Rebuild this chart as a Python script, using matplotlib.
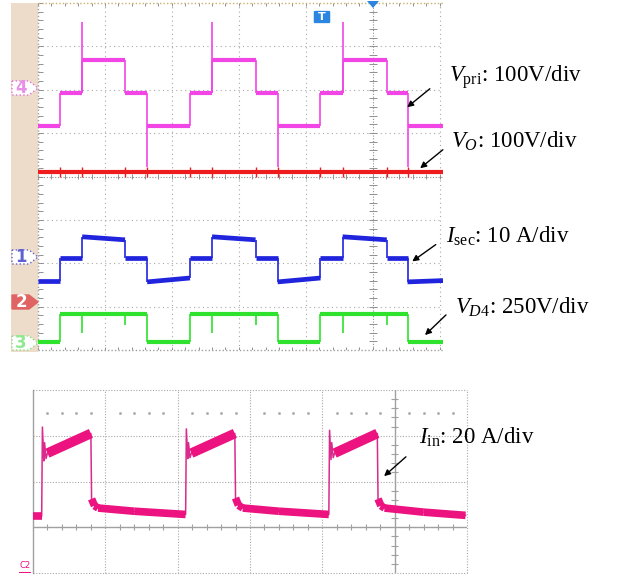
import matplotlib
matplotlib.use("Agg")
import matplotlib.pyplot as plt
from matplotlib.patches import Polygon, FancyBboxPatch, FancyArrowPatch, Rectangle

# ---------------- data (in scope divisions) ----------------
# top scope: transition times (div, relative to trigger centre)
edges_top = [-5.0, -4.67, -4.34, -3.70, -3.37, -2.73, -2.40, -1.75, -1.42, -0.78, -0.45, 0.21, 0.52, 1.05]
vpri_levels = [1.16, 1.92, 2.68, 1.92, 1.16, 1.92, 2.68, 1.92, 1.16, 1.92, 2.68, 1.92, 1.16]
vpri_spike_up_t = [-4.34, -2.40, -0.45]
vpri_spike_up_v = [3.56, 3.56, 3.56]
vpri_spike_dn_t = [-3.37, -1.42, 0.52]
vpri_spike_dn_v = [0.22, 0.22, 0.22]

vo_level = 0.10

isec_start = [-2.41, -1.88, -1.39, -1.88, -2.43, -1.88, -1.39, -1.88, -2.43, -1.88, -1.39, -1.88, -2.43]
isec_end = [-2.41, -1.88, -1.46, -1.88, -2.34, -1.88, -1.46, -1.88, -2.34, -1.88, -1.46, -1.88, -2.40]

vd4_levels = [-3.81, -3.17, -3.17, -3.17, -3.81, -3.17, -3.17, -3.17, -3.81, -3.17, -3.17, -3.17, -3.81]
vd4_dip_t = [-4.34, -3.70, -2.40, -1.75, -0.45, 0.21]
vd4_dip_v = [-3.60, -3.42, -3.60, -3.42, -3.60, -3.42]

# bottom scope: input current I_in
iin_t = [-5.00, -4.88, -4.87, -4.85, -4.84, -4.82, -4.80, -4.20, -4.19, -4.15, -4.10, -3.60, -2.89,
         -2.88, -2.86, -2.85, -2.83, -2.81, -2.21, -2.20, -2.16, -2.10, -1.60, -0.91,
         -0.90, -0.88, -0.87, -0.85, -0.83, -0.24, -0.23, -0.19, -0.14, 0.40, 0.98]
iin_v = [0.24, 0.24, 2.19, 1.45, 1.85, 1.50, 1.62, 2.05, 0.62, 0.47, 0.42, 0.35, 0.28,
         2.15, 1.50, 1.85, 1.52, 1.62, 2.05, 0.64, 0.48, 0.42, 0.35, 0.28,
         2.12, 1.48, 1.85, 1.52, 1.62, 2.05, 0.62, 0.47, 0.42, 0.33, 0.26]

labels_top = [r"$V_{\mathrm{pri}}$: 100V/div", r"$V_{O}$: 100V/div",
              r"$I_{\mathrm{sec}}$: 10 A/div", r"$V_{D4}$: 250V/div"]
label_bottom = r"$I_{\mathrm{in}}$: 20 A/div"

# ---------------- style ----------------
plt.rcParams['font.family'] = ['Liberation Serif', 'DejaVu Serif']
plt.rcParams['mathtext.fontset'] = 'custom'
plt.rcParams['mathtext.rm'] = 'Liberation Serif'
plt.rcParams['mathtext.it'] = 'Liberation Serif:italic'

W, H = 622, 576
fig = plt.figure(figsize=(W / 100, H / 100), dpi=100)

def fx(x):
    return x / W

def fy(y):
    return 1 - y / H

def add_axes_px(x0, y0, x1, y1):
    ax = fig.add_axes([fx(x0), fy(y1), (x1 - x0) / W, (y1 - y0) / H])
    ax.set_axis_off()
    return ax

MAG = '#F245E6'
RED = '#EE1C1C'
BLUE = '#2024DD'
GREEN = '#2EE22E'
PINK = '#EC1280'
GRID = '#A8A8A8'

# ---------------- top scope ----------------
fig.add_artist(Rectangle((fx(11), fy(352)), (38 - 11) / W, (352 - 3) / H,
                         transform=fig.transFigure, facecolor='#EEDCCA', edgecolor='none', zorder=0))

axt = add_axes_px(38, 3, 443, 350)
axt.set_xlim(-5.0, 1.05)
axt.set_ylim(-4, 4)

for gx in range(-4, 2):
    if gx != 0:
        axt.plot([gx, gx], [-4, 4], color=GRID, lw=0.8, ls=(0, (1, 3)), zorder=1)
for gy in range(-3, 4):
    if gy != 0:
        axt.plot([-5, 1.05], [gy, gy], color=GRID, lw=0.8, ls=(0, (1, 3)), zorder=1)
axt.plot([0, 0], [-4, 4], color='#909090', lw=0.8, ls=(0, (1, 1.5)), zorder=1)
axt.plot([-5, 1.05], [0, 0], color='#909090', lw=0.8, ls=(0, (1, 1.5)), zorder=1)
ticks_x = [i * 0.2 for i in range(-25, 6)]
ticks_y = [i * 0.2 for i in range(-20, 21)]
axt.vlines(ticks_x, -0.06, 0.06, color='#909090', lw=0.7, zorder=1)
axt.hlines(ticks_y, -0.06, 0.06, color='#909090', lw=0.7, zorder=1)
axt.hlines(ticks_y, -5.0, -4.93, color='#909090', lw=0.7, zorder=1)
axt.vlines(ticks_x, 3.94, 4.0, color='#909090', lw=0.7, zorder=1)
axt.vlines(ticks_x, -4.0, -3.94, color='#909090', lw=0.7, zorder=1)
axt.plot([-5, 1.05], [4, 4], color='#C8B070', lw=1.0, ls=(0, (1, 1.5)), zorder=1, clip_on=False)
axt.plot([-5, 1.05], [-4, -4], color='#A0A0A0', lw=1.0, ls=(0, (1, 1.5)), zorder=1, clip_on=False)
axt.plot([-5, -5], [-4, 4], color='#A0A0A0', lw=1.0, ls=(0, (1, 1.5)), zorder=1, clip_on=False)

starts = edges_top[:-1]
ends = edges_top[1:]

# V_pri
axt.hlines(vpri_levels, starts, ends, color=MAG, lw=3.0, zorder=3)
axt.vlines(edges_top[1:-1], vpri_levels[:-1], vpri_levels[1:], color=MAG, lw=1.2, zorder=3)
axt.vlines(vpri_spike_up_t, [1.92] * 3, vpri_spike_up_v, color=MAG, lw=1.2, zorder=3)
axt.vlines(vpri_spike_dn_t, vpri_spike_dn_v, [1.16] * 3, color=MAG, lw=1.2, zorder=3)

# V_O
axt.hlines([vo_level], -5.0, 1.05, color=RED, lw=3.0, zorder=4)
axt.vlines(edges_top[1:-1], vo_level - 0.1, vo_level + 0.12, color=RED, lw=1.0, zorder=4)

# I_sec
for s, e, a, b in zip(starts, ends, isec_start, isec_end):
    axt.plot([s, e], [a, b], color=BLUE, lw=3.4, solid_capstyle='butt', zorder=3)
axt.vlines(edges_top[1:-1], isec_end[:-1], isec_start[1:], color=BLUE, lw=1.2, zorder=3)

# V_D4
axt.hlines(vd4_levels, starts, ends, color=GREEN, lw=3.0, zorder=3)
axt.vlines(edges_top[1:-1], vd4_levels[:-1], vd4_levels[1:], color=GREEN, lw=1.2, zorder=3)
axt.vlines(vd4_dip_t, vd4_dip_v, -3.12, color=GREEN, lw=1.2, zorder=3)

# channel markers
def chan_marker(yc, face, edge, txt, tcol, ls=':'):
    x0, x1, xt, h = 12, 29, 38, 7
    pts = [(fx(x0), fy(yc - h)), (fx(x1), fy(yc - h)), (fx(xt), fy(yc)),
           (fx(x1), fy(yc + h)), (fx(x0), fy(yc + h))]
    fig.add_artist(Polygon(pts, closed=True, transform=fig.transFigure,
                           facecolor=face, edgecolor=edge, lw=1.0, ls=ls, zorder=5))
    fig.text(fx(21), fy(yc), txt, color=tcol, fontsize=12, fontweight='bold',
             family='DejaVu Sans', ha='center', va='center', zorder=6)

chan_marker(88, 'white', '#E070E0', '4', '#E890E8')
chan_marker(257, 'white', '#6060D0', '1', '#6060D0')
chan_marker(302, '#E06464', '#E06464', '2', 'white', ls='-')
chan_marker(343, 'white', '#80E080', '3', '#90E890')

# trigger markers
fig.add_artist(FancyBboxPatch((fx(315), fy(22)), 14 / W, 10 / H, boxstyle='round,pad=0.002',
                              transform=fig.transFigure, facecolor='#2A86E0', edgecolor='none', zorder=6))
fig.text(fx(322), fy(17), 'T', color='white', fontsize=8, fontweight='bold',
         family='DejaVu Sans', ha='center', va='center', zorder=7)
fig.add_artist(Polygon([(fx(367), fy(1)), (fx(379), fy(1)), (fx(373), fy(8))], closed=True,
                       transform=fig.transFigure, facecolor='#2A86E0', edgecolor='none', zorder=6))

# ---------------- bottom scope ----------------
axb = add_axes_px(33, 390, 467, 573)
axb.set_xlim(-5.0, 1.0)
axb.set_ylim(-1, 3)
for gx in range(-4, 2):
    if gx != 0:
        axb.plot([gx, gx], [-1, 3], color=GRID, lw=0.8, ls=(0, (1, 1.5)), zorder=1, clip_on=False)
for gy in [1, 2, 3, -1]:
    axb.plot([-5, 1.0], [gy, gy], color=GRID, lw=0.8, ls=(0, (1, 1.5)), zorder=1, clip_on=False)
axb.plot([-5, 1.0], [0, 0], color='#A0A0A0', lw=1.0, zorder=1)
axb.plot([0, 0], [-1, 3], color='#A0A0A0', lw=1.0, zorder=1)
axb.plot([-5, -5], [-1, 3], color='#A0A0A0', lw=1.0, zorder=1, clip_on=False)
bt_x = [i * 0.2 for i in range(-25, 6) if i % 5 != 0]
bt_y = [i * 0.2 for i in range(-5, 16) if i % 5 != 0]
axb.vlines(bt_x, -0.07, 0.07, color='#A0A0A0', lw=0.8, zorder=1)
axb.hlines(bt_y, -0.05, 0.05, color='#A0A0A0', lw=0.8, zorder=1)
axb.scatter(bt_x, [2.5] * len(bt_x), s=1.2, color='#B0B0B0', zorder=1)

# thin trace for the fast edges / ringing, thick noisy band for the slow parts
axb.plot(iin_t, iin_v, color='#DA2A8C', lw=1.1, zorder=3)
for i in range(len(iin_t) - 1):
    if iin_t[i + 1] - iin_t[i] > 0.035:
        lw = 7.0 if iin_v[i] > 1.0 else 5.5
        axb.plot(iin_t[i:i + 2], iin_v[i:i + 2], color=PINK, lw=lw,
                 solid_capstyle='butt', zorder=3)

fig.text(fx(25), fy(565), 'C2', color=PINK, fontsize=6, family='DejaVu Sans', ha='center', va='center')
fig.add_artist(Rectangle((fx(19), fy(573)), 12 / W, 1.5 / H, transform=fig.transFigure,
                         facecolor=PINK, edgecolor='none'))

# ---------------- annotations ----------------
FS = 16.5
text_pos = [(449, 77), (451, 141), (446, 236), (455, 307)]
arrows = [((432, 87), (405, 109)), ((445, 148), (418, 170)),
          ((438, 243), (410, 263)), ((448, 313), (423, 337))]
for (tx, ty), lab in zip(text_pos, labels_top):
    fig.text(fx(tx), fy(ty), lab, fontsize=FS, ha='left', va='center', color='black')
fig.text(fx(419), fy(437), label_bottom, fontsize=FS, ha='left', va='center', color='black')
arrows.append(((408, 455), (382, 478)))
for (x0, y0), (x1, y1) in arrows:
    fig.add_artist(FancyArrowPatch((fx(x0), fy(y0)), (fx(x1), fy(y1)), transform=fig.transFigure,
                                   arrowstyle='-|>', mutation_scale=9, lw=1.0, color='black', zorder=8))

fig.savefig('out.png', dpi=100, facecolor='white')
